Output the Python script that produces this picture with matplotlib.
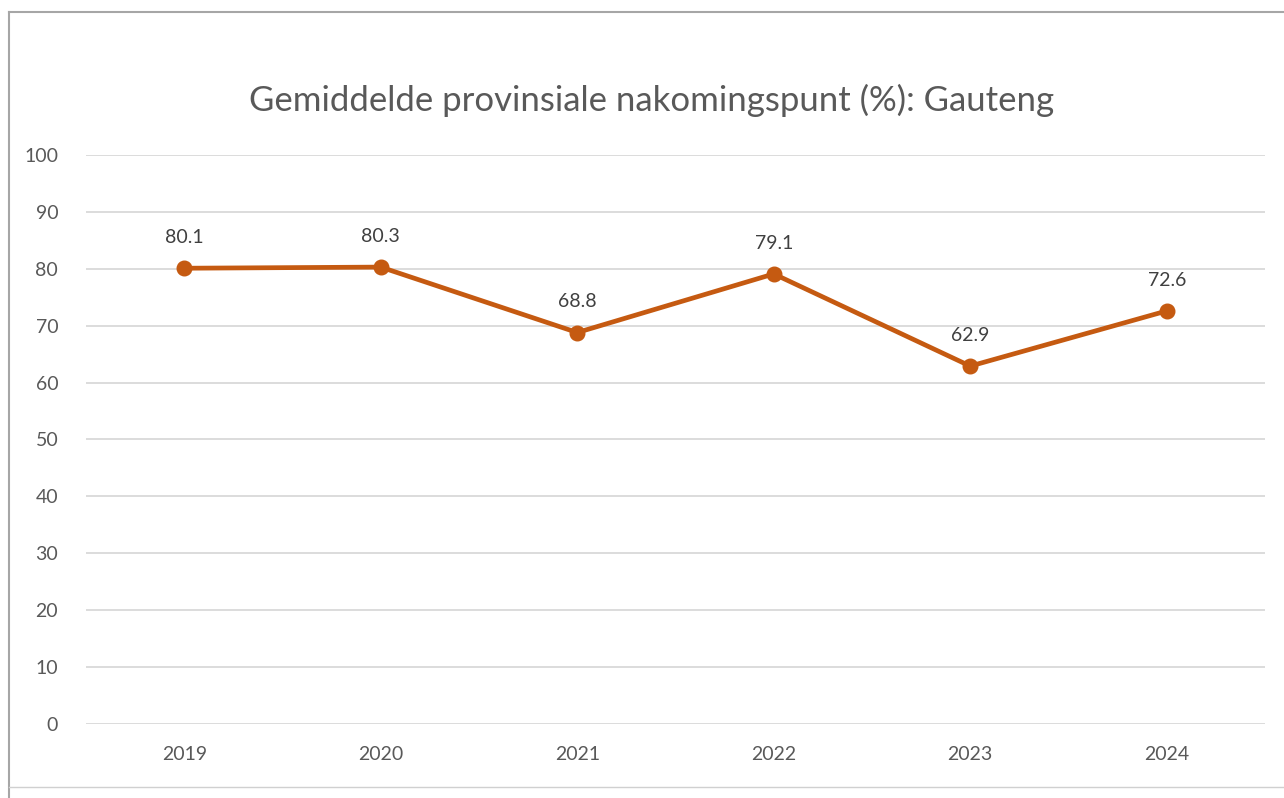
import matplotlib.pyplot as plt
from matplotlib.lines import Line2D

plt.rcParams['font.family'] = ['Lato', 'DejaVu Sans']

years = ["2019", "2020", "2021", "2022", "2023", "2024"]
scores = [80.1, 80.3, 68.8, 79.1, 62.9, 72.6]
yticks = [0, 10, 20, 30, 40, 50, 60, 70, 80, 90, 100]

line_color = "#C55A11"
text_color = "#595959"

fig = plt.figure(figsize=(12.84, 7.98), dpi=100)
ax = fig.add_axes([86/1284, 1 - 724/798, (1265 - 86)/1284, (724 - 155)/798])

x = list(range(len(years)))
ax.plot(x, scores, color=line_color, linewidth=3.4, marker="o", markersize=10.5,
        solid_capstyle="round", zorder=3)
for xi, v in zip(x, scores):
    ax.annotate(f"{v}", (xi, v), xytext=(0, 22), textcoords="offset points",
                ha="center", va="center", fontsize=14, color="#404040")

ax.set_xlim(-0.5, len(years) - 0.5)
ax.set_ylim(0, 100)
ax.set_xticks(x)
ax.set_xticklabels(years)
ax.set_yticks(yticks)
ax.grid(axis="y", color="#d9d9d9", linewidth=1.3)
ax.set_axisbelow(True)
for s in ax.spines.values():
    s.set_visible(False)
ax.tick_params(axis="both", length=0, labelsize=14, colors=text_color)
ax.tick_params(axis="y", pad=20)
ax.tick_params(axis="x", pad=16)

fig.text((247 + 1057) / 2 / 1284, 1 - 100/798,
         "Gemiddelde provinsiale nakomingspunt (%): Gauteng",
         ha="center", va="center", fontsize=25, color=text_color)

# chart frame
fig.add_artist(Line2D([9/1284, 1], [1 - 12/798] * 2, color="#a6a6a6", linewidth=1.5))
fig.add_artist(Line2D([9/1284] * 2, [1 - 12/798, 0], color="#a6a6a6", linewidth=1.5))
fig.add_artist(Line2D([9/1284, 1], [1 - 787/798] * 2, color="#d0d0d0", linewidth=1))

fig.savefig("out.png", dpi=100)
plt.close()
